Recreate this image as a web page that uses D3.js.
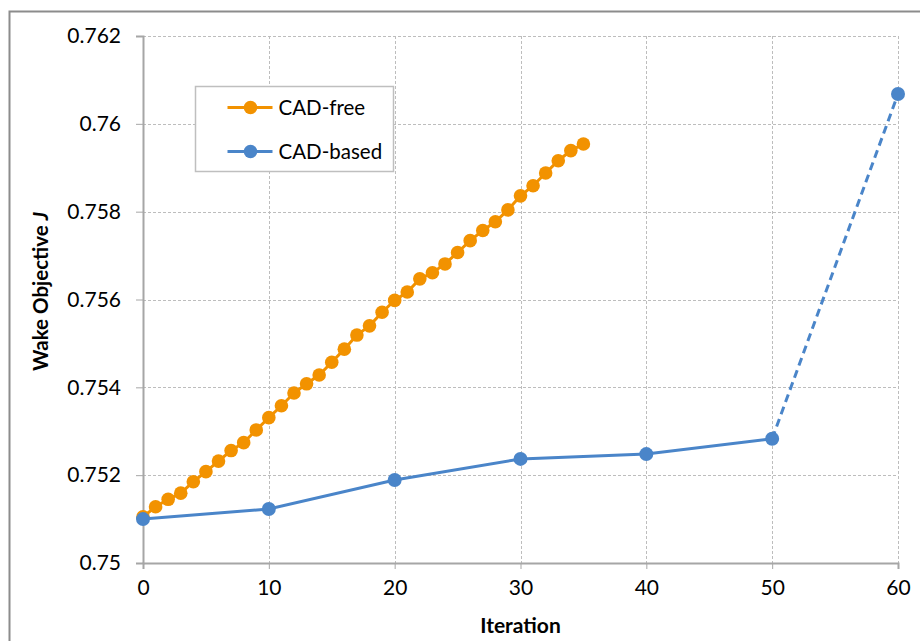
<!DOCTYPE html>
<html>
<head>
<meta charset="utf-8">
<script src="https://cdn.jsdelivr.net/npm/d3@7"></script>
<style>
  body { margin: 0; background: #fff; }
  svg { display: block; font-family: Lato, "Open Sans", sans-serif; }
</style>
</head>
<body>
<div id="chart"></div>
<script>
// Data
const freeIter = d3.range(0, 36);
const freeJ = [0.75105, 0.75128, 0.75145, 0.75159, 0.75185, 0.75208, 0.75232, 0.75256, 0.75274, 0.75303,
  0.75331, 0.75358, 0.75387, 0.75408, 0.75428, 0.75457, 0.75487, 0.75519, 0.75540, 0.75571,
  0.75598, 0.75617, 0.75647, 0.75661, 0.75681, 0.75707, 0.75734, 0.75757, 0.75777, 0.75804,
  0.75836, 0.75859, 0.75888, 0.75916, 0.75939, 0.75954];
const basedIter = [0, 10, 20, 30, 40, 50, 60];
const basedJ = [0.75100, 0.75123, 0.75189, 0.75237, 0.75248, 0.75283, 0.76068];
const xTicks = [0, 10, 20, 30, 40, 50, 60];
const yTicks = [0.75, 0.752, 0.754, 0.756, 0.758, 0.76, 0.762];
const seriesNames = ['CAD-free', 'CAD-based'];
const colors = ['#f29200', '#4a85c9'];

const width = 920, height = 641;
const margin = { left: 143, right: 22, top: 36, bottom: 78 };

const svg = d3.select('#chart').append('svg')
  .attr('width', width).attr('height', height);

// outer frame (cropped chart area)
svg.append('rect')
  .attr('x', 9.5).attr('y', 11.5)
  .attr('width', width + 20).attr('height', height + 20)
  .attr('fill', 'none').attr('stroke', '#8c8c8c').attr('stroke-width', 2);

const xScale = d3.scaleLinear().domain([0, 60]).range([margin.left, width - margin.right]);
const yScale = d3.scaleLinear().domain([0.75, 0.762]).range([height - margin.bottom, margin.top]);

// Grid
const grid = svg.append('g').attr('stroke', '#bdbdbd').attr('stroke-dasharray', '3,2').attr('stroke-width', 1);
grid.selectAll('line.h').data(yTicks.slice(1)).join('line')
  .attr('x1', xScale(0)).attr('x2', xScale(60))
  .attr('y1', d => Math.round(yScale(d)) + 0.5).attr('y2', d => Math.round(yScale(d)) + 0.5);
grid.selectAll('line.v').data(xTicks.slice(1)).join('line')
  .attr('y1', yScale(0.762)).attr('y2', yScale(0.75))
  .attr('x1', d => Math.round(xScale(d)) + 0.5).attr('x2', d => Math.round(xScale(d)) + 0.5);

// Axes
const xAxis = d3.axisBottom(xScale).tickValues(xTicks).tickSize(6).tickPadding(11).tickFormat(d3.format('d'));
const yAxis = d3.axisLeft(yScale).tickValues(yTicks).tickSize(7).tickPadding(15).tickFormat(d => d3.format('')(+d.toFixed(3)));

const gx = svg.append('g').attr('transform', `translate(0,${yScale(0.75)})`).call(xAxis);
const gy = svg.append('g').attr('transform', `translate(${xScale(0)},0)`).call(yAxis);
[gx, gy].forEach(g => {
  g.select('.domain').attr('stroke', '#a6a6a6').attr('stroke-width', 2);
  g.selectAll('.tick line').attr('stroke', '#a6a6a6');
  g.selectAll('.tick text').attr('font-size', 21).attr('fill', '#000')
    .attr('font-family', 'Lato, sans-serif');
});

// Axis titles
svg.append('text')
  .attr('x', xScale(30)).attr('y', 633)
  .attr('text-anchor', 'middle').attr('font-size', 21).attr('font-weight', 'bold')
  .text('Iteration');
const yt = svg.append('text')
  .attr('transform', `translate(48,${yScale(0.756) - 8}) rotate(-90)`)
  .attr('text-anchor', 'middle').attr('font-size', 20.5).attr('font-weight', 'bold');
yt.append('tspan').text('Wake Objective ');
yt.append('tspan').attr('font-style', 'italic').text('J');

// Lines
const line = d3.line().x(d => xScale(d[0])).y(d => yScale(d[1]));
const freePts = freeIter.map((d, i) => [d, freeJ[i]]);
const basedPts = basedIter.map((d, i) => [d, basedJ[i]]);

svg.append('path').datum(freePts).attr('d', line)
  .attr('fill', 'none').attr('stroke', colors[0]).attr('stroke-width', 3);
svg.selectAll('circle.free').data(freePts).join('circle').attr('class', 'free')
  .attr('cx', d => xScale(d[0])).attr('cy', d => yScale(d[1])).attr('r', 6.8)
  .attr('fill', colors[0]);

svg.append('path').datum(basedPts.slice(0, 6)).attr('d', line)
  .attr('fill', 'none').attr('stroke', colors[1]).attr('stroke-width', 3);
svg.append('path').datum(basedPts.slice(5)).attr('d', line)
  .attr('fill', 'none').attr('stroke', colors[1]).attr('stroke-width', 3)
  .attr('stroke-dasharray', '8,5');
svg.selectAll('circle.based').data(basedPts).join('circle').attr('class', 'based')
  .attr('cx', d => xScale(d[0])).attr('cy', d => yScale(d[1])).attr('r', 7)
  .attr('fill', colors[1]);

// Legend
const lg = svg.append('g').attr('transform', 'translate(195.5,86.5)');
lg.append('rect').attr('width', 198).attr('height', 85)
  .attr('fill', '#fff').attr('stroke', '#bfbfbf').attr('stroke-width', 1.5);
seriesNames.forEach((name, i) => {
  const y = 21 + i * 44;
  lg.append('line').attr('x1', 32).attr('x2', 77).attr('y1', y).attr('y2', y)
    .attr('stroke', colors[i]).attr('stroke-width', 3);
  lg.append('circle').attr('cx', 55).attr('cy', y).attr('r', 6.8).attr('fill', colors[i]);
  lg.append('text').attr('x', 83).attr('y', y).attr('dy', '0.35em')
    .attr('font-size', 20.5).attr('fill', '#000').text(name);
});
</script>
</body>
</html>
